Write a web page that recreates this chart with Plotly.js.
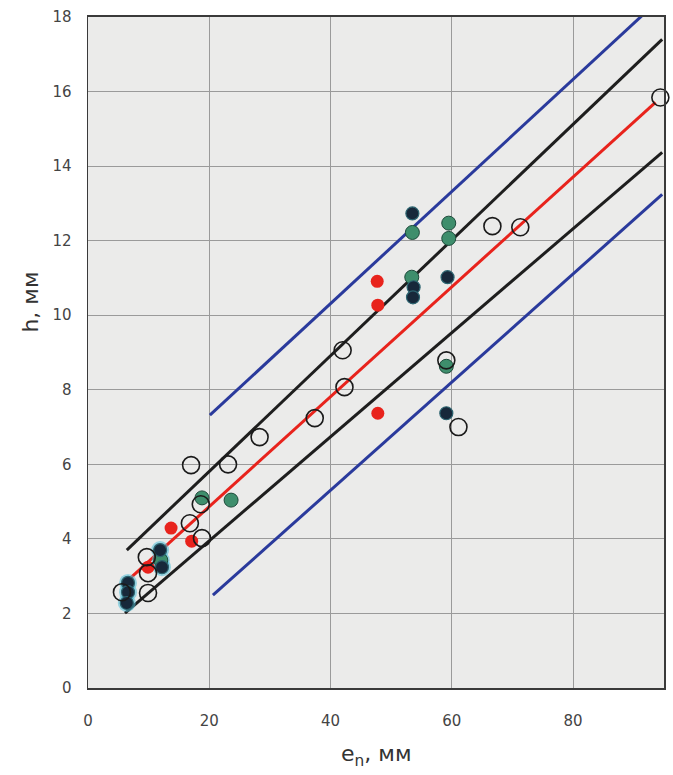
<!DOCTYPE html>
<html>
<head>
<meta charset="utf-8">
<script src="https://cdn.plot.ly/plotly-3.0.1.min.js"></script>
<style>
  html, body { margin: 0; padding: 0; background: #ffffff; }
  #chart { width: 673px; height: 775px; }
</style>
</head>
<body>
<div id="chart"></div>
<script>
// ---- data ----
// open circles
const openX = [94.4, 66.7, 71.3, 42.0, 42.3, 37.4, 28.3, 17.0, 23.1, 59.1, 61.1, 18.6, 16.8, 18.8, 9.7, 9.9, 9.9, 5.6];
const openY = [15.84, 12.39, 12.36, 9.06, 8.07, 7.24, 6.73, 5.98, 6.0, 8.79, 7.0, 4.93, 4.42, 4.02, 3.51, 3.08, 2.55, 2.57];
// red filled
const redX = [47.7, 47.8, 47.8, 13.7, 17.1, 9.9];
const redY = [10.91, 10.27, 7.37, 4.29, 3.94, 3.24];
// green filled
const greenX = [53.5, 59.5, 59.5, 53.4, 59.1, 18.8, 23.6, 12.0];
const greenY = [12.22, 12.47, 12.06, 11.02, 8.63, 5.1, 5.04, 3.43];
// dark navy filled
const navyX = [53.5, 53.7, 53.6, 59.3, 59.1, 11.9, 12.2, 6.6, 6.6, 6.4];
const navyY = [12.73, 10.75, 10.48, 11.02, 7.37, 3.7, 3.24, 2.82, 2.57, 2.28];
// navy points with cyan glow (lower-left group)
const glowX = [11.9, 12.0, 12.2, 6.6, 6.6, 6.4];
const glowY = [3.7, 3.43, 3.24, 2.82, 2.57, 2.28];

// fitted / bound lines (end points)
const redLineX = [7.2, 93.6];
const redLineY = [2.98, 15.71];
const blackUpX = [6.4, 94.7];
const blackUpY = [3.7, 17.4];
const blackLowX = [6.1, 94.7];
const blackLowY = [2.01, 14.37];
const blueUpX = [20.1, 91.6];
const blueUpY = [7.32, 18.07];
const blueLowX = [20.6, 94.7];
const blueLowY = [2.49, 13.24];

const xTicks = [0, 20, 40, 60, 80];
const yTicks = [0, 2, 4, 6, 8, 10, 12, 14, 16, 18];

function lineTrace(x, y, color) {
  return { x: x, y: y, type: 'scatter', mode: 'lines',
           line: { color: color, width: 3 }, hoverinfo: 'skip', showlegend: false };
}

const traces = [
  lineTrace(blueUpX, blueUpY, '#2a3a9c'),
  lineTrace(blueLowX, blueLowY, '#2a3a9c'),
  lineTrace(blackUpX, blackUpY, '#1e1e1e'),
  lineTrace(blackLowX, blackLowY, '#1e1e1e'),
  lineTrace(redLineX, redLineY, '#e8231c'),
  { x: glowX, y: glowY, type: 'scatter', mode: 'markers', cliponaxis: false,
    marker: { size: 18, color: 'rgba(80,190,215,0.55)', line: { width: 0 } }, showlegend: false },
  { x: greenX, y: greenY, type: 'scatter', mode: 'markers', cliponaxis: false,
    marker: { size: 14, color: '#3e8e6c', line: { color: '#1d4a3a', width: 1 } }, showlegend: false },
  { x: navyX, y: navyY, type: 'scatter', mode: 'markers', cliponaxis: false,
    marker: { size: 13, color: '#17283a', line: { color: '#2c6470', width: 1.2 } }, showlegend: false },
  { x: redX, y: redY, type: 'scatter', mode: 'markers', cliponaxis: false,
    marker: { size: 13, color: '#e8231c', line: { width: 0 } }, showlegend: false },
  { x: openX, y: openY, type: 'scatter', mode: 'markers', cliponaxis: false,
    marker: { size: 17, symbol: 'circle-open', color: '#1a1a1a', line: { color: '#1a1a1a', width: 1.6 } }, showlegend: false }
];

const layout = {
  width: 673, height: 775,
  margin: { l: 88, r: 9, t: 17, b: 87 },
  paper_bgcolor: '#ffffff',
  plot_bgcolor: '#ebebea',
  showlegend: false,
  font: { family: 'DejaVu Sans, Verdana, sans-serif', color: '#444444', size: 15 },
  xaxis: {
    range: [0, 95], tickvals: xTicks, ticktext: xTicks.map(String),
    showgrid: true, gridcolor: '#9a9a9a', gridwidth: 1,
    zeroline: false, showline: true, linecolor: '#3a3a3a', linewidth: 2, mirror: true,
    ticks: 'outside', ticklen: 18, tickcolor: 'rgba(0,0,0,0)',
    tickfont: { size: 15, color: '#444444' }
  },
  yaxis: {
    range: [0, 18], tickvals: yTicks, ticktext: yTicks.map(String),
    showgrid: true, gridcolor: '#9a9a9a', gridwidth: 1,
    zeroline: false, showline: true, linecolor: '#3a3a3a', linewidth: 1.5, mirror: true,
    ticks: 'outside', ticklen: 12, tickcolor: 'rgba(0,0,0,0)',
    tickfont: { size: 15, color: '#444444' }
  },
  annotations: [
    { text: 'h, мм', xref: 'paper', yref: 'paper', x: -0.10, y: 0.575,
      textangle: -90, showarrow: false, xanchor: 'center', yanchor: 'middle',
      font: { size: 22, color: '#333333', family: 'DejaVu Sans, Verdana, sans-serif' } },
    { text: 'e<sub>n</sub>, мм', xref: 'paper', yref: 'paper', x: 0.5, y: -0.1,
      showarrow: false, xanchor: 'center', yanchor: 'middle',
      font: { size: 22, color: '#333333', family: 'DejaVu Sans, Verdana, sans-serif' } }
  ]
};

Plotly.newPlot('chart', traces, layout, { displayModeBar: false, staticPlot: true });
</script>
</body>
</html>
